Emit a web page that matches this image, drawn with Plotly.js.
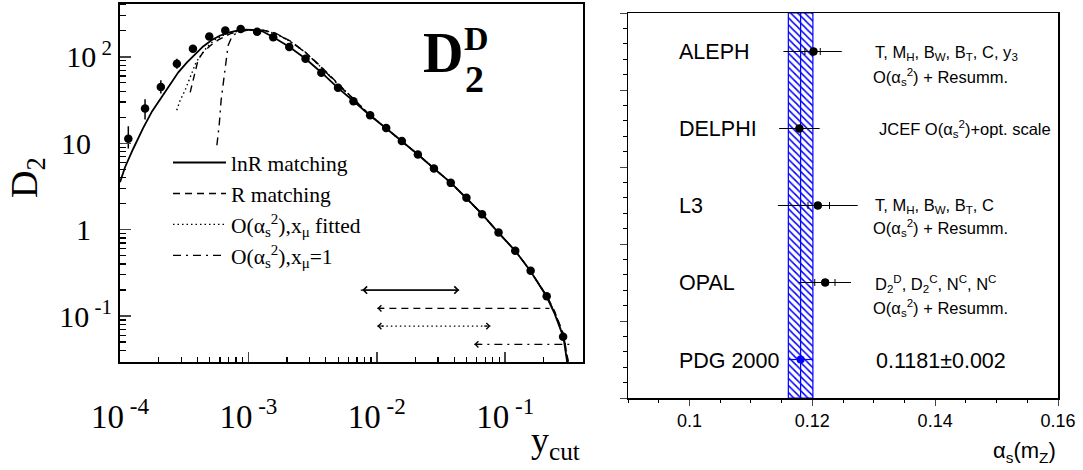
<!DOCTYPE html>
<html><head><meta charset="utf-8">
<script src="https://cdn.plot.ly/plotly-3.0.1.min.js"></script>
<style>html,body{margin:0;padding:0;background:#fff}#chart{width:1083px;height:470px}</style>
</head><body><div id="chart"></div>
<script>
// ---------- Left panel: D2 (Durham) vs y_cut ----------
const ycut = [1.161e-4, 1.567e-4, 2.080e-4, 2.773e-4, 3.698e-4, 4.955e-4, 6.607e-4, 8.710e-4,
  1.169e-3, 1.560e-3, 2.080e-3, 2.786e-3, 3.698e-3, 4.989e-3, 6.577e-3, 8.872e-3,
  1.183e-2, 1.567e-2, 2.089e-2, 2.786e-2, 3.767e-2, 4.989e-2, 6.607e-2, 8.872e-2,
  0.1197, 0.1578, 0.2104, 0.2825];
const d2 = [11.3, 25.2, 44.8, 83.4, 124, 172, 202, 210, 195, 169, 130, 95.3, 65.6, 44.0,
  30.6, 21.1, 15.0, 10.6, 7.41, 5.11, 3.48, 2.34, 1.51, 0.929, 0.569, 0.334, 0.170, 0.0577];
const d2ErrHi = [4.4, 7.1, 8.7, 11.6, 10, 0, 0, 0, 0, 0, 0, 0, 0, 0, 0, 0, 0, 0, 0, 0, 0, 0, 0, 0, 0, 0, 0, 0];
const d2ErrLo = [2.6, 6.3, 7.2, 10.4, 10, 0, 0, 0, 0, 0, 0, 0, 0, 0, 0, 0, 0, 0, 0, 0, 0, 0, 0, 0, 0, 0, 0, 0];

// lnR matching (solid)
const lnrX = [1.0e-4, 1.094e-4, 1.262e-4, 1.510e-4, 1.775e-4, 2.113e-4, 2.454e-4, 2.846e-4, 3.325e-4,
  3.843e-4, 4.440e-4, 5.19e-4, 6.03e-4, 6.99e-4, 8.17e-4, 9.42e-4, 1.088e-3, 1.272e-3, 1.567e-3,
  2.09e-3, 2.79e-3, 3.72e-3, 4.95e-3, 6.61e-3, 8.81e-3, 1.175e-2, 1.567e-2, 2.09e-2, 2.79e-2,
  3.78e-2, 4.95e-2, 6.61e-2, 8.81e-2, 0.1197, 0.1567, 0.209, 0.2415, 0.284, 0.316];
const lnrY = [3.54, 5.28, 8.53, 14.9, 23.4, 34.3, 48.1, 66.2, 86.3, 108, 132, 157, 177, 191, 201,
  206, 205, 199, 169, 130, 95, 65.6, 44.0, 30.6, 21.1, 15.0, 10.6, 7.41, 5.11, 3.48, 2.34, 1.51,
  0.93, 0.569, 0.334, 0.170, 0.1084, 0.0571, 0.02];
// R matching (dashed)
const rX = [3.52e-4, 3.71e-4, 3.88e-4, 4.05e-4, 4.38e-4, 5.02e-4, 5.83e-4, 7.19e-4, 9.09e-4, 1.279e-3,
  1.615e-3, 2.11e-3, 2.77e-3, 3.69e-3, 4.92e-3, 6.55e-3, 8.73e-3, 1.175e-2, 1.567e-2, 2.09e-2,
  2.79e-2, 3.78e-2, 4.95e-2, 6.61e-2, 8.81e-2, 0.1197, 0.1567, 0.209, 0.2415, 0.284, 0.316];
const rY = [38.9, 53.5, 73.6, 91.2, 110, 134, 157, 185, 202, 205, 189, 153, 114, 76.6, 50.0, 32.7,
  21.6, 15.0, 10.6, 7.41, 5.11, 3.48, 2.34, 1.51, 0.93, 0.569, 0.336, 0.175, 0.115, 0.062, 0.025];
// O(as^2), x_mu fitted (dotted)
const fitX = [2.767e-4, 2.94e-4, 3.21e-4, 3.45e-4, 3.66e-4, 3.91e-4, 4.20e-4, 4.74e-4, 5.46e-4, 6.57e-4,
  8.12e-4, 9.96e-4, 1.279e-3, 1.615e-3, 2.11e-3, 2.77e-3, 3.69e-3, 4.92e-3, 6.55e-3, 8.73e-3,
  1.175e-2, 1.567e-2, 2.09e-2, 2.79e-2, 3.78e-2, 4.95e-2, 6.61e-2, 8.81e-2, 0.1197, 0.1567, 0.209,
  0.2415, 0.284, 0.316];
const fitY = [24.1, 31.4, 41.0, 53.5, 69.8, 86.3, 101, 129, 157, 182, 197, 204, 202, 187, 151, 113,
  75.7, 49.4, 32.7, 21.6, 15.0, 10.6, 7.41, 5.11, 3.48, 2.34, 1.51, 0.93, 0.569, 0.334, 0.172,
  0.111, 0.059, 0.02];
// O(as^2), x_mu = 1 (dash-dot)
const fixX = [5.68e-4, 5.92e-4, 6.13e-4, 6.41e-4, 6.64e-4, 6.95e-4, 7.46e-4, 8.31e-4, 9.96e-4, 1.279e-3,
  1.615e-3, 2.11e-3, 2.77e-3, 3.69e-3, 4.92e-3, 6.55e-3, 8.73e-3, 1.175e-2, 1.567e-2, 2.09e-2,
  2.79e-2, 3.78e-2, 4.95e-2, 6.61e-2, 8.81e-2, 0.1197, 0.1567, 0.209, 0.2415, 0.284, 0.316];
const fixY = [9.48, 16.1, 31.4, 53.5, 86.3, 136, 173, 195, 204, 204, 189, 151, 113, 75.7, 48.8, 32.3,
  21.3, 15.0, 10.6, 7.41, 5.11, 3.48, 2.34, 1.51, 0.93, 0.569, 0.336, 0.173, 0.113, 0.061, 0.024];

// fit ranges (arrows): solid, dashed, dotted, dash-dot
const rangeLo = [0.0075, 0.0101, 0.0101, 0.0575];
const rangeHi = [0.0438, 0.221, 0.0767, 0.316];
const rangeY  = [0.2, 0.123, 0.0766, 0.0471];

const xTickVals = [1e-4, 1e-3, 1e-2, 1e-1];
const xTickText = ['10<sup> -4</sup>', '10<sup> -3</sup>', '10<sup> -2</sup>', '10<sup> -1</sup>'];
const xMinorVals = [2e-4, 3e-4, 4e-4, 5e-4, 6e-4, 7e-4, 8e-4, 9e-4, 2e-3, 3e-3, 4e-3, 5e-3, 6e-3, 7e-3, 8e-3, 9e-3,
  2e-2, 3e-2, 4e-2, 5e-2, 6e-2, 7e-2, 8e-2, 9e-2, 0.2, 0.3];
const yTickVals = [0.1, 1, 10, 100];
const yTickText = ['10<sup> -1</sup>', '1\u2002\u2009', '10\u2002\u2009', '10<sup> 2</sup>'];
const yMinorVals = [0.04, 0.05, 0.06, 0.07, 0.08, 0.09, 0.2, 0.3, 0.4, 0.5, 0.6, 0.7, 0.8, 0.9,
  2, 3, 4, 5, 6, 7, 8, 9, 20, 30, 40, 50, 60, 70, 80, 90, 200, 300, 400];

// ---------- Right panel: alpha_s(mZ) ----------
const expNames = ['ALEPH', 'DELPHI', 'L3', 'OPAL'];
const expRow = [4.5, 3.5, 2.5, 1.5];
const expVal = [0.1202, 0.1179, 0.1209, 0.1221];
const totErrLo = [0.0049, 0.0033, 0.0065, 0.0043];
const totErrHi = [0.0046, 0.0033, 0.0065, 0.0042];
const statErrLo = [0.0014, 0.0, 0.0016, 0.0017];
const statErrHi = [0.0011, 0.0, 0.0019, 0.0016];
const pdgRow = [0.5];
const pdgVal = [0.1181];
const pdgErr = [0.002];
const rowSpan = [0, 5];
const rightTickVals = [0.1, 0.12, 0.14, 0.16];
const rightTickText = ['0.1', '0.12', '0.14', '0.16'];

const W = 1083, H = 470;
const px = v => v / W, py = v => 1 - v / H;
const serif = 'Liberation Serif, Times New Roman, serif';
const sans = 'Liberation Sans, Arial, sans-serif';

const traces = [];
traces.push({x: lnrX, y: lnrY, mode: 'lines', name: 'lnR matching', xaxis: 'x', yaxis: 'y',
  line: {color: 'black', width: 1.8}, hoverinfo: 'skip'});
traces.push({x: rX, y: rY, mode: 'lines', name: 'R matching', xaxis: 'x', yaxis: 'y',
  line: {color: 'black', width: 1.4, dash: '7px,5px'}, hoverinfo: 'skip'});
traces.push({x: fitX, y: fitY, mode: 'lines', name: 'O(α<sub>s</sub><sup>2</sup>),x<sub>μ</sub> fitted', xaxis: 'x', yaxis: 'y',
  line: {color: 'black', width: 1.4, dash: '1.5px,3px'}, hoverinfo: 'skip'});
traces.push({x: fixX, y: fixY, mode: 'lines', name: 'O(α<sub>s</sub><sup>2</sup>),x<sub>μ</sub>=1', xaxis: 'x', yaxis: 'y',
  line: {color: 'black', width: 1.4, dash: '8px,5px,2px,5px'}, hoverinfo: 'skip'});
traces.push({x: ycut, y: d2, mode: 'markers', showlegend: false, xaxis: 'x', yaxis: 'y',
  marker: {color: 'black', size: 8.5, symbol: 'circle'},
  error_y: {type: 'data', symmetric: false, array: d2ErrHi, arrayminus: d2ErrLo, color: 'black', thickness: 1.5, width: 0}});
const rangeDash = ['solid', '7px,5px', '1.5px,3px', '8px,5px,2px,5px'];
for (let i = 0; i < rangeLo.length; i++) {
  traces.push({x: [rangeLo[i], rangeHi[i]], y: [rangeY[i], rangeY[i]], mode: 'lines', showlegend: false,
    xaxis: 'x', yaxis: 'y', line: {color: 'black', width: 1.3, dash: rangeDash[i]}, hoverinfo: 'skip'});
}

traces.push({x: [pdgVal[0] - pdgErr[0], pdgVal[0] + pdgErr[0], pdgVal[0] + pdgErr[0], pdgVal[0] - pdgErr[0], pdgVal[0] - pdgErr[0]],
  y: [rowSpan[0], rowSpan[0], rowSpan[1], rowSpan[1], rowSpan[0]], xaxis: 'x2', yaxis: 'y2',
  mode: 'lines', fill: 'toself', showlegend: false, hoverinfo: 'skip',
  line: {color: 'blue', width: 1.2}, fillcolor: 'white',
  fillpattern: {shape: '\\', fgcolor: 'blue', bgcolor: 'white', size: 5, solidity: 0.3}});
traces.push({x: [pdgVal[0], pdgVal[0]], y: rowSpan, xaxis: 'x2', yaxis: 'y2', mode: 'lines', showlegend: false,
  line: {color: 'blue', width: 1.2}, hoverinfo: 'skip'});
traces.push({x: expVal, y: expRow, xaxis: 'x2', yaxis: 'y2', mode: 'markers', showlegend: false,
  marker: {color: 'black', size: 8},
  error_x: {type: 'data', symmetric: false, array: totErrHi, arrayminus: totErrLo, color: 'black', thickness: 1, width: 0}});
traces.push({x: expVal, y: expRow, xaxis: 'x2', yaxis: 'y2', mode: 'markers', showlegend: false,
  marker: {color: 'black', size: 8},
  error_x: {type: 'data', symmetric: false, array: statErrHi, arrayminus: statErrLo, color: 'black', thickness: 1, width: 3.5}});
traces.push({x: pdgVal, y: pdgRow, xaxis: 'x2', yaxis: 'y2', mode: 'markers', showlegend: false,
  marker: {color: 'blue', size: 8},
  error_x: {type: 'data', array: pdgErr, color: 'blue', thickness: 1.2, width: 0}});

const annotations = [];
const L = Math.log10;
annotations.push({xref: 'x', yref: 'y', axref: 'x', ayref: 'y', x: L(rangeHi[0]), y: L(rangeY[0]),
  ax: L(rangeLo[0]), ay: L(rangeY[0]), text: '', showarrow: true, arrowside: 'end+start',
  arrowhead: 4, startarrowhead: 4, arrowwidth: 1.3, arrowsize: 1.1, startarrowsize: 1.1, arrowcolor: 'black'});
[[rangeLo[1], rangeY[1], 8], [rangeLo[2], rangeY[2], 8], [rangeHi[2], rangeY[2], -8], [rangeLo[3], rangeY[3], 8]].forEach(a => {
  annotations.push({xref: 'x', yref: 'y', x: L(a[0]), y: L(a[1]), ax: a[2], ay: 0, text: '', showarrow: true,
    arrowhead: 4, arrowwidth: 1.0, arrowsize: 1.2, arrowcolor: 'black'});
});
annotations.push({xref: 'paper', yref: 'paper', x: px(443), y: py(53), text: 'D', showarrow: false,
  xanchor: 'center', yanchor: 'middle', font: {family: serif, size: 56, color: 'black', weight: 'bold'}});
annotations.push({xref: 'paper', yref: 'paper', x: px(476), y: py(39), text: 'D', showarrow: false,
  xanchor: 'center', yanchor: 'middle', font: {family: serif, size: 34, color: 'black', weight: 'bold'}});
annotations.push({xref: 'paper', yref: 'paper', x: px(474), y: py(79), text: '2', showarrow: false,
  xanchor: 'center', yanchor: 'middle', font: {family: serif, size: 38, color: 'black', weight: 'bold'}});
annotations.push({xref: 'paper', yref: 'paper', x: px(27), y: py(178), text: 'D<sub>2</sub>', showarrow: false,
  textangle: -90, xanchor: 'center', yanchor: 'middle', font: {family: serif, size: 38, color: 'black'}});
annotations.push({xref: 'paper', yref: 'paper', x: px(582), y: py(442), text: 'y<sub>cut</sub>', showarrow: false,
  xanchor: 'right', yanchor: 'middle', font: {family: serif, size: 36, color: 'black'}});
annotations.push({xref: 'paper', yref: 'paper', x: px(1058), y: py(452), text: 'α<sub>s</sub>(m<sub>Z</sub>)', showarrow: false,
  xanchor: 'right', yanchor: 'middle', font: {family: sans, size: 22, color: 'black'}});
const rowY = [52, 129, 206, 283, 361];
const rowNames = expNames.concat(['PDG 2000']);
rowNames.forEach((n, i) => {
  annotations.push({xref: 'paper', yref: 'paper', x: px(677), y: py(rowY[i]), text: n, showarrow: false,
    xanchor: 'left', yanchor: 'middle', font: {family: sans, size: 21.5, color: 'black'}});
});
const notes = [
  ['T, M<sub>H</sub>, B<sub>W</sub>, B<sub>T</sub>, C, y<sub>3</sub>', 873, 53],
  ['O(α<sub>s</sub><sup>2</sup>) + Resumm.', 871, 77],
  ['JCEF O(α<sub>s</sub><sup>2</sup>)+opt. scale', 877, 129],
  ['T, M<sub>H</sub>, B<sub>W</sub>, B<sub>T</sub>, C', 873, 206],
  ['O(α<sub>s</sub><sup>2</sup>) + Resumm.', 871, 228],
  ['D<sub>2</sub><sup>D</sup>, D<sub>2</sub><sup>C</sup>, N<sup>C</sup>, N<sup>C</sup>', 873, 284],
  ['O(α<sub>s</sub><sup>2</sup>) + Resumm.', 871, 308]
];
notes.forEach(n => {
  annotations.push({xref: 'paper', yref: 'paper', x: px(n[1]), y: py(n[2]), text: n[0], showarrow: false,
    xanchor: 'left', yanchor: 'middle', font: {family: sans, size: 16.5, color: 'black'}});
});
annotations.push({xref: 'paper', yref: 'paper', x: px(874), y: py(361), text: pdgVal[0].toFixed(4) + '±' + pdgErr[0].toFixed(3),
  showarrow: false, xanchor: 'left', yanchor: 'middle', font: {family: sans, size: 21.5, color: 'black'}});

const layout = {
  width: W, height: H, margin: {l: 0, r: 0, t: 0, b: 0}, paper_bgcolor: 'white', plot_bgcolor: 'white',
  showlegend: true,
  legend: {x: px(168), y: py(142), xanchor: 'left', yanchor: 'top', bgcolor: 'rgba(0,0,0,0)', itemwidth: 53,
    font: {family: serif, size: 21.5, color: 'black'}, tracegroupgap: 0},
  xaxis: {type: 'log', domain: [px(120), px(582.5)], range: [-4, -0.398], anchor: 'y',
    tickmode: 'array', tickvals: xTickVals, ticktext: xTickText, ticks: 'inside', ticklen: 10, tickwidth: 1.5,
    tickfont: {family: serif, size: 33, color: 'black'}, ticklabelstandoff: 24,
    minor: {tickmode: 'array', tickvals: xMinorVals, ticks: 'inside', ticklen: 5, tickwidth: 1.2, tickcolor: 'black'},
    showline: true, linecolor: 'black', linewidth: 2, mirror: true, showgrid: false, zeroline: false, fixedrange: true},
  yaxis: {type: 'log', domain: [py(362), py(3.5)], range: [-1.532, 2.618], anchor: 'x',
    tickmode: 'array', tickvals: yTickVals, ticktext: yTickText, ticks: 'inside', ticklen: 11, tickwidth: 1.5,
    tickfont: {family: serif, size: 30, color: 'black'}, ticklabelstandoff: 0,
    minor: {tickmode: 'array', tickvals: yMinorVals, ticks: 'inside', ticklen: 6, tickwidth: 1.2, tickcolor: 'black'},
    showline: true, linecolor: 'black', linewidth: 2, mirror: true, showgrid: false, zeroline: false, fixedrange: true},
  xaxis2: {domain: [px(628), px(1058)], range: [0.09, 0.16], anchor: 'y2',
    tickmode: 'array', tickvals: rightTickVals, ticktext: rightTickText, ticks: 'outside', ticklen: 6, tickwidth: 1,
    tickfont: {family: sans, size: 18, color: 'black'},
    minor: {dtick: 0.005, tick0: 0.1, ticks: 'outside', ticklen: 3, tickwidth: 1, tickcolor: 'black'},
    showline: true, linecolor: 'black', linewidth: 1.5, mirror: true, showgrid: false, zeroline: false, fixedrange: true},
  yaxis2: {domain: [py(398), py(13)], range: [0, 5], anchor: 'x2', dtick: 1, tick0: 0,
    ticks: 'outside', ticklen: 7, tickwidth: 1, showticklabels: false,
    minor: {dtick: 0.2, ticks: 'outside', ticklen: 3.5, tickwidth: 1, tickcolor: 'black'},
    showline: true, linecolor: 'black', linewidth: 1.5, mirror: true, showgrid: false, zeroline: false, fixedrange: true},
  annotations: annotations
};
Plotly.newPlot('chart', traces, layout, {staticPlot: true, displayModeBar: false});
</script></body></html>
